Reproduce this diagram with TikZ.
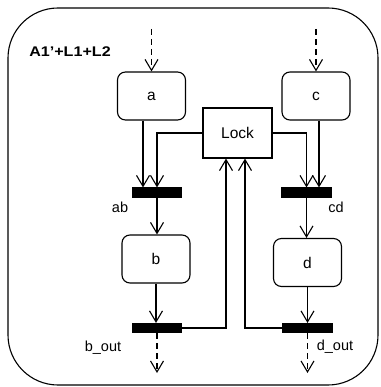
\documentclass[tikz,border=0pt]{standalone}
\usepackage{fontspec}
\setmainfont{Liberation Sans}
\usetikzlibrary{arrows.meta}
\begin{document}
\begin{tikzpicture}[x=1pt,y=-1pt,
  line width=1.1pt,
  every node/.style={font=\fontsize{15.5}{17}\selectfont, inner sep=0pt},
  act/.style={draw, rounded corners=8pt, minimum width=68pt, minimum height=48pt},
  lockbox/.style={draw, minimum width=69pt, minimum height=50pt},
  bar/.style={draw, fill=black, minimum width=49pt, minimum height=9pt},
  lbl/.style={font=\fontsize{14.5}{16}\selectfont},
  arr/.style={-{Straight Barb[length=11pt,width=13pt,line width=1.1pt]}},
  dsh/.style={dashed, dash pattern=on 6pt off 4pt}
]
\useasboundingbox (0,0) rectangle (380,387);
\draw[rounded corners=50pt] (8,8) rectangle (378,385);
\node[font=\fontsize{14}{16}\selectfont\bfseries] (title) at (70,52) {\scalebox{1.15}[1]{A1’+L1+L2}};

\node[act] (a) at (151.5,96) {a};
\node[act] (c) at (316,96) {c};
\node[lockbox] (lock) at (237.5,133) {Lock};
\node[bar] (ab) at (157,192.5) {};
\node[bar] (cd) at (306.5,192.5) {};
\node[act] (b) at (156,259) {b};
\node[act] (d) at (307.5,262.5) {d};
\node[bar] (bout) at (157,328) {};
\node[bar] (dout) at (307.5,328) {};

\node[lbl] (lab) at (120,207) {ab};
\node[lbl] (lcd) at (336,207) {cd};
\node[lbl] (lbout) at (103,348) {b\_out};
\node[lbl] (ldout) at (335,347) {d\_out};

\coordinate (ain) at (151.5,29);
\coordinate (cin) at (316,29);
\coordinate (bend) at (157,373);
\coordinate (dend) at (307.5,373);

\draw[arr,dsh] (ain) -- (a.north);
\draw[arr,dsh] (cin) -- (c.north);
\draw[arr] ([xshift=-8.5pt]a.south) -- ([xshift=-8.5pt]a.south |- ab.north);
\draw[arr] (lock.west) -| (ab.north);
\draw[arr] ([xshift=3pt]c.south) -- ([xshift=3pt]c.south |- cd.north);
\draw[arr] (lock.east) -| (cd.north);
\draw[arr] (ab.south) -- (ab.south |- b.north);
\draw[arr] (b.south) -- (b.south |- bout.north);
\draw[arr] (cd.south) -- (cd.south |- d.north);
\draw[arr] (d.south) -- (d.south |- dout.north);
\draw[arr] (bout.east) -| ([xshift=-11.5pt]lock.south);
\draw[arr] (dout.west) -| ([xshift=7.5pt]lock.south);
\draw[arr,dsh] (bout.south) -- (bend);
\draw[arr,dsh] (dout.south) -- (dend);
\end{tikzpicture}
\end{document}
